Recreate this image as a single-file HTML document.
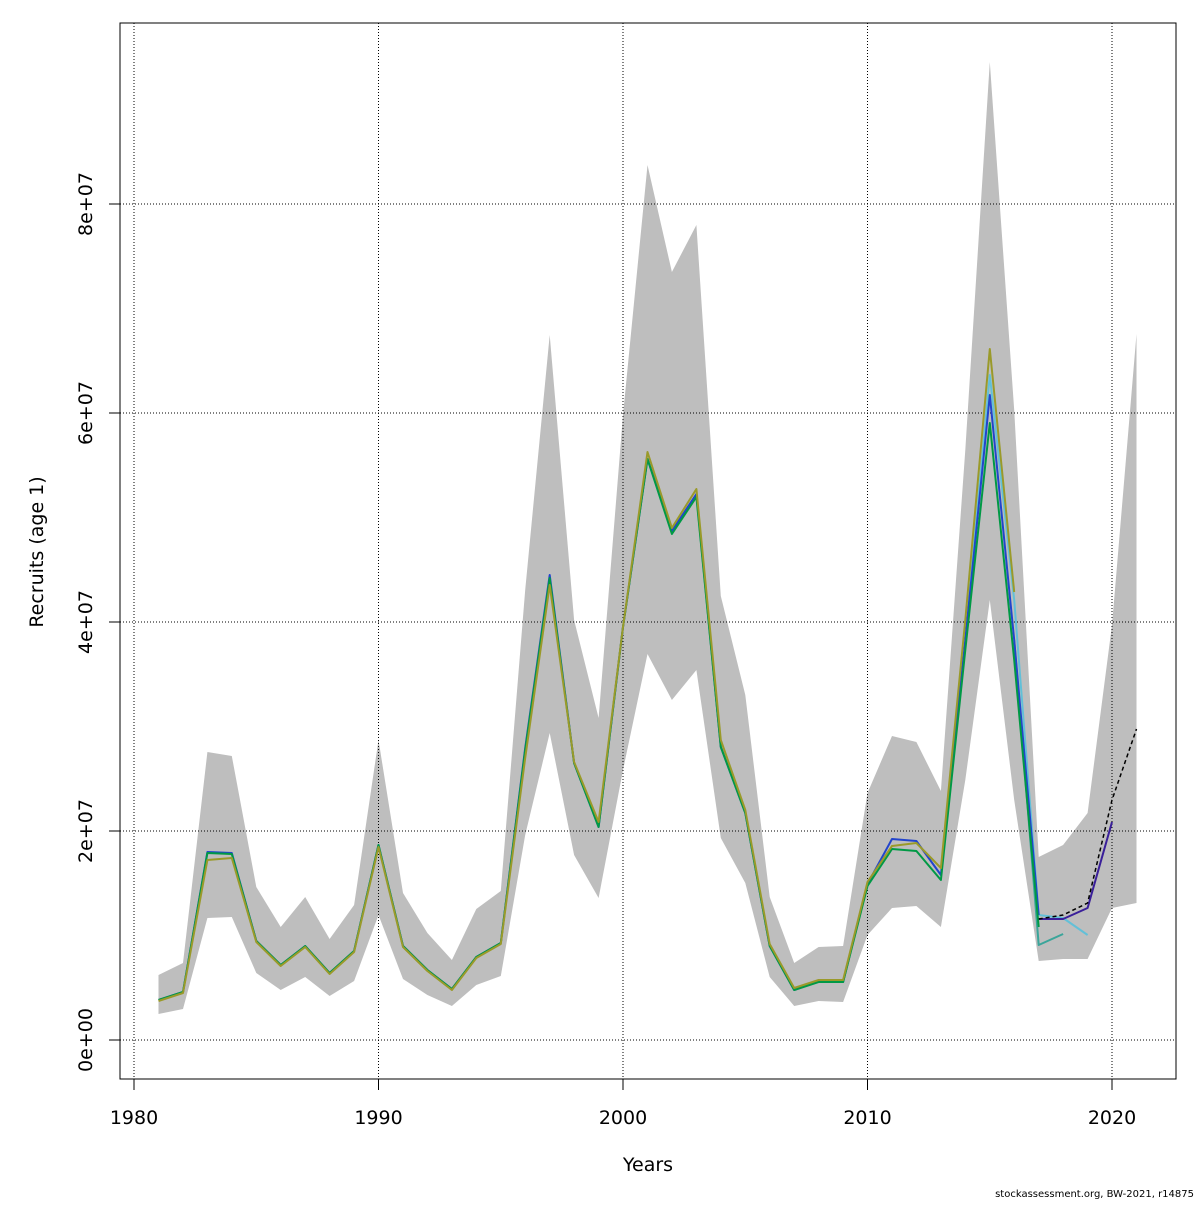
<!DOCTYPE html>
<html><head><meta charset="utf-8"><style>
body{margin:0;background:#fff;}
svg text{font-family:"DejaVu Sans","Liberation Sans",sans-serif;}
</style></head><body>
<svg width="1200" height="1200" viewBox="0 0 1200 1200" xmlns="http://www.w3.org/2000/svg">
<rect width="1200" height="1200" fill="#fff"/>
<polygon fill="#bebebe" points="158.5,975 183,963 207.4,752 231.8,756 256.3,887 280.7,927 305.2,897 329.6,939 354.1,905 378.5,740 403,893 427.4,933 451.9,960 476.3,909 500.8,891 525.2,590 549.7,335 574.1,620 598.6,718 623,415 647.5,165 671.9,272 696.4,225 720.8,596 745.3,695 769.7,897 794.2,963 818.6,947 843.1,946 867.5,793 892,736 916.4,742 940.9,791 965.3,450 989.8,62 1014.2,410 1038.7,857 1063.1,845 1087.6,813 1112,625 1136.5,334 1136.5,903 1112,908 1087.6,959 1063.1,959 1038.7,961 1014.2,800 989.8,600 965.3,780 940.9,927 916.4,906 892,908 867.5,935 843.1,1002 818.6,1001 794.2,1006 769.7,977 745.3,883 720.8,838 696.4,670 671.9,700 647.5,654 623,770 598.6,898 574.1,855 549.7,733 525.2,835 500.8,976 476.3,985 451.9,1006 427.4,995 403,979 378.5,915 354.1,981 329.6,996 305.2,977 280.7,990 256.3,973 231.8,917 207.4,918 183,1009 158.5,1014"/>
<g stroke="#000" stroke-width="1" stroke-dasharray="1,2" fill="none">
<line x1="134" y1="23" x2="134" y2="1079"/><line x1="378.5" y1="23" x2="378.5" y2="1079"/><line x1="623" y1="23" x2="623" y2="1079"/><line x1="867.5" y1="23" x2="867.5" y2="1079"/><line x1="1112" y1="23" x2="1112" y2="1079"/>
<line x1="120" y1="1040" x2="1176" y2="1040"/><line x1="120" y1="831" x2="1176" y2="831"/><line x1="120" y1="622" x2="1176" y2="622"/><line x1="120" y1="413" x2="1176" y2="413"/><line x1="120" y1="204" x2="1176" y2="204"/>
</g>
<g fill="none" stroke-width="2" stroke-linejoin="round">
<polyline stroke="#62c0d8" points="965.3,640 989.8,375 1014.2,600 1038.7,915 1063.1,918 1087.6,935"/>
<polyline stroke="#3aa59a" points="1014.2,640 1038.7,945 1063.1,934"/>
<polyline stroke="#2244cc" points="158.5,1000 183,992 207.4,852 231.8,853 256.3,941 280.7,965 305.2,946 329.6,973 354.1,951 378.5,845 403,946 427.4,970 451.9,989 476.3,957 500.8,943 525.2,748 549.7,575 574.1,763 598.6,827 623,627 647.5,459 671.9,531 696.4,494 720.8,747 745.3,813 769.7,946 794.2,990 818.6,981 843.1,982 867.5,884 892,839 916.4,841 940.9,875 965.3,640 989.8,395 1014.2,640 1038.7,915"/>
<polyline stroke="#3a1f9a" points="1038.7,919 1063.1,919 1087.6,908 1112,822"/>
<polyline stroke="#009945" points="158.5,1000 183,992 207.4,853 231.8,854 256.3,941 280.7,965 305.2,946 329.6,973 354.1,951 378.5,845 403,946 427.4,970 451.9,989 476.3,957 500.8,943 525.2,750 549.7,578 574.1,763 598.6,827 623,627 647.5,459 671.9,534 696.4,497 720.8,747 745.3,813 769.7,946 794.2,990 818.6,982 843.1,982 867.5,886 892,849 916.4,851 940.9,880 965.3,650 989.8,423 1014.2,660 1038.7,927"/>
<polyline stroke="#9a9a2a" points="158.5,1001 183,993 207.4,860 231.8,858 256.3,942 280.7,966 305.2,947 329.6,974 354.1,952 378.5,847 403,947 427.4,971 451.9,990 476.3,958 500.8,944 525.2,758 549.7,585 574.1,762 598.6,822 623,627 647.5,452 671.9,528 696.4,489 720.8,740 745.3,810 769.7,944 794.2,988 818.6,980 843.1,980 867.5,882 892,846 916.4,843 940.9,868 965.3,620 989.8,349 1014.2,592"/>
<polyline stroke="#000" stroke-width="1.5" stroke-dasharray="4,3" points="1038.7,919 1063.1,915 1087.6,903 1112,800 1136.5,729"/>
</g>
<rect x="120" y="23" width="1056" height="1056" fill="none" stroke="#000" stroke-width="1"/>
<g stroke="#000"><line x1="134" y1="1079" x2="134" y2="1090"/><line x1="378.5" y1="1079" x2="378.5" y2="1090"/><line x1="623" y1="1079" x2="623" y2="1090"/><line x1="867.5" y1="1079" x2="867.5" y2="1090"/><line x1="1112" y1="1079" x2="1112" y2="1090"/>
<line x1="109" y1="1040" x2="120" y2="1040"/><line x1="109" y1="831" x2="120" y2="831"/><line x1="109" y1="622" x2="120" y2="622"/><line x1="109" y1="413" x2="120" y2="413"/><line x1="109" y1="204" x2="120" y2="204"/></g>
<g font-size="19" text-anchor="middle" fill="#000">
<text x="134" y="1124">1980</text><text x="378.5" y="1124">1990</text><text x="623" y="1124">2000</text><text x="867.5" y="1124">2010</text><text x="1112" y="1124">2020</text>
<text x="648" y="1171">Years</text>
<text transform="translate(92,1040) rotate(-90)">0e+00</text>
<text transform="translate(92,831) rotate(-90)">2e+07</text>
<text transform="translate(92,622) rotate(-90)">4e+07</text>
<text transform="translate(92,413) rotate(-90)">6e+07</text>
<text transform="translate(92,204) rotate(-90)">8e+07</text>
<text transform="translate(43,552) rotate(-90)">Recruits (age 1)</text>
</g>
<text x="1194" y="1197" font-size="10" text-anchor="end">stockassessment.org, BW-2021, r14875</text>
</svg>
</body></html>
